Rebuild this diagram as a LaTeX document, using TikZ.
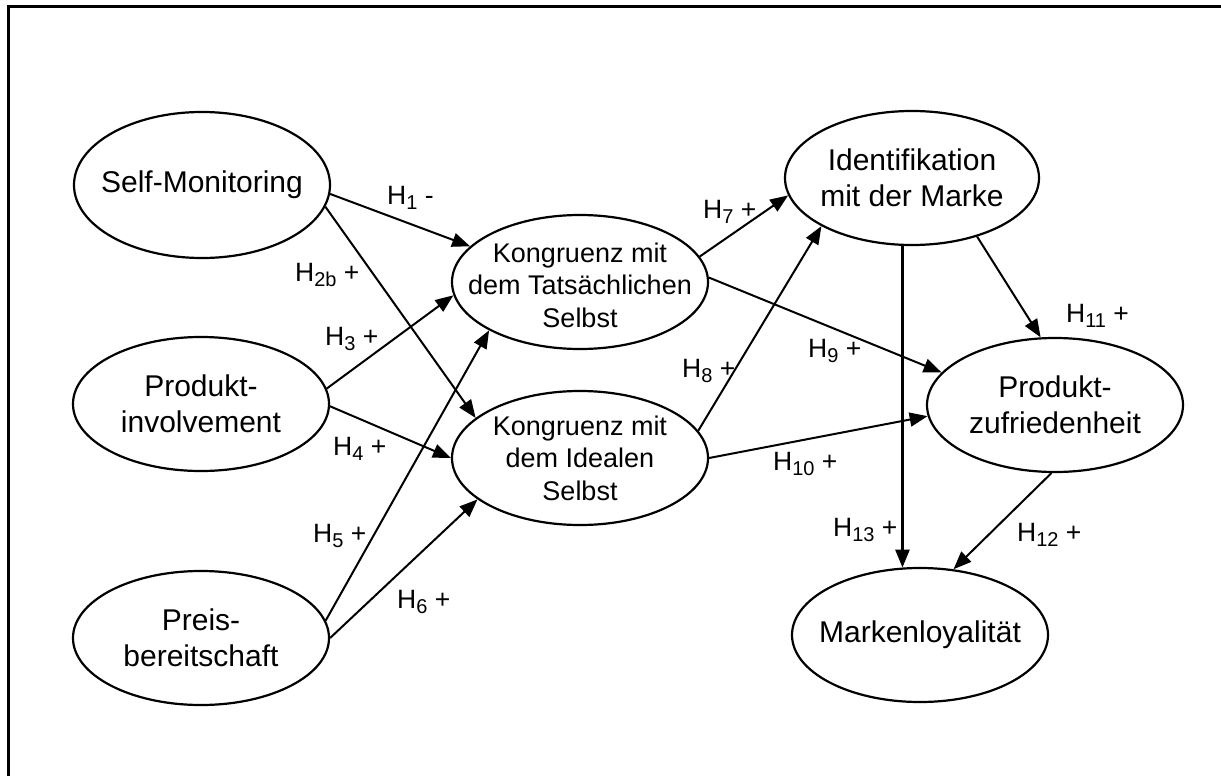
\documentclass[tikz,border=0pt]{standalone}
\usepackage{fontspec}
\setmainfont{Liberation Sans}
\usetikzlibrary{shapes.geometric,arrows.meta}
% lowered index after the H of a hypothesis label
\newcommand\hsub[1]{\raisebox{-5.5bp}{\fontsize{20bp}{20bp}\selectfont #1}}
\begin{document}
\begin{tikzpicture}[x=1bp,y=-1bp,
  construct/.style={ellipse,draw,line width=2.2bp,minimum width=256bp,
    minimum height=134bp,inner sep=0pt},
  bigtext/.style={font=\fontsize{30bp}{36bp}\selectfont,align=center,inner sep=0pt},
  smalltext/.style={font=\fontsize{27bp}{32.5bp}\selectfont,align=center,inner sep=0pt},
  effect/.style={line width=2bp,-{Triangle[length=18bp,width=14bp]}},
  hlab/.style={font=\fontsize{26.5bp}{30bp}\selectfont,inner sep=0pt,anchor=base west}]
\useasboundingbox (0,0) rectangle (1221,776);
\clip (0,0) rectangle (1221,776);
% outer frame (runs past the lower and right page edges)
\draw[line width=3bp] (8,7) rectangle (1260,820);

% constructs
\node[construct,minimum height=146bp,label={[bigtext]center:Self-Monitoring}] (sm) at (202,185) {};
\node[construct,label={[bigtext]center:Produkt-\\involvement}] (pi) at (201,404) {};
\node[construct,label={[bigtext]center:Preis-\\bereitschaft}] (pb) at (201,638) {};
\node[construct,label={[smalltext,yshift=-3bp]center:Kongruenz mit\\dem Tatsächlichen\\Selbst}] (kt) at (580,282) {};
\node[construct,label={[smalltext]center:Kongruenz mit\\dem Idealen\\Selbst}] (ki) at (580,458) {};
\node[construct,minimum width=254bp,label={[bigtext]center:Identifikation\\mit der Marke}] (id) at (912,178) {};
\node[construct,label={[bigtext]center:Produkt-\\zufriedenheit}] (pz) at (1055,405) {};
\node[construct,label={[bigtext]center:Markenloyalität}] (ml) at (920,635) {};

% hypothesised effects
\draw[effect] (sm.-4) -- (kt.162);
\draw[effect] (sm.-10) -- (ki.159);
\draw[effect] (pi.7.6) -- (kt.-174);
\draw[effect] (pi.-1.3) -- (ki.180);
\draw[effect] (pb.8) -- (kt.-152);
\draw[effect] (pb.0.5) -- (ki.-158.6);
\draw[effect] (kt.12.8) -- (id.-172);
\draw[effect] (ki.13.3) -- (id.-152);
\draw[effect] (kt.2.3) -- (pz.164.4);
\draw[effect] (ki.0.5) -- (pz.-175.5);
\draw[effect] (id.-42.6) -- (pz.102.6);
\draw[effect] (pz.-93) -- (ml.63.4);
\draw[effect,line width=2.8bp] (id.-98.5) -- (id.-98.5 |- ml.105);

% labels of the hypotheses
\node[hlab] (l1)  at (387,204) {H\hsub{1} -};
\node[hlab] (l2)  at (295,281) {H\hsub{2b} +};
\node[hlab] (l3)  at (325,345) {H\hsub{3} +};
\node[hlab] (l4)  at (333,455) {H\hsub{4} +};
\node[hlab] (l5)  at (313,542) {H\hsub{5} +};
\node[hlab] (l6)  at (397,608) {H\hsub{6} +};
\node[hlab] (l7)  at (703,218) {H\hsub{7} +};
\node[hlab] (l8)  at (682,377) {H\hsub{8} +};
\node[hlab] (l9)  at (808,357) {H\hsub{9} +};
\node[hlab] (l10) at (773,470) {H\hsub{10} +};
\node[hlab] (l11) at (1066,322) {H\hsub{11} +};
\node[hlab] (l12) at (1017,541) {H\hsub{12} +};
\node[hlab] (l13) at (833,536) {H\hsub{13} +};
\end{tikzpicture}
\end{document}
